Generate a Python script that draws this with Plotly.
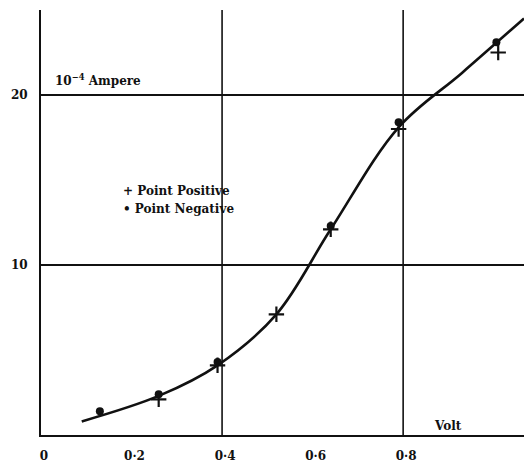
import plotly.graph_objects as go

# Measured current (10^-4 A) against applied voltage (V)
pos_volt = [0.26, 0.39, 0.52, 0.64, 0.79, 1.01]
pos_amp = [2.1, 4.1, 7.1, 12.1, 18.0, 22.5]

neg_volt = [0.13, 0.26, 0.39, 0.64, 0.79, 1.006]
neg_amp = [1.4, 2.4, 4.3, 12.3, 18.4, 23.1]

# Smoothed characteristic drawn through the observations
curve_volt = [0.09, 0.26, 0.39, 0.52, 0.64, 0.79, 0.93, 1.067]
curve_amp = [0.8, 2.3, 4.1, 7.1, 12.1, 18.1, 21.3, 24.5]

x_ticks = [0, 0.2, 0.4, 0.6, 0.8]
x_ticktext = ["0", "0·2", "0·4", "0·6", "0·8"]
x_grid = [0.4, 0.8]
y_ticks = [10, 20]

ink = "#111111"
serif = "DejaVu Serif"

fig = go.Figure()
fig.add_trace(go.Scatter(
    x=curve_volt, y=curve_amp, mode="lines",
    line=dict(color=ink, width=2.6, shape="spline", smoothing=1.0),
    hoverinfo="skip", showlegend=False,
))
fig.add_trace(go.Scatter(
    x=neg_volt, y=neg_amp, mode="markers", name="Point Negative",
    marker=dict(symbol="circle", size=8, color=ink),
    showlegend=False,
))
fig.add_trace(go.Scatter(
    x=pos_volt, y=pos_amp, mode="markers", name="Point Positive",
    marker=dict(symbol="cross-thin", size=11, line=dict(color=ink, width=2.2)),
    showlegend=False,
))

for gx in x_grid:
    fig.add_shape(type="line", xref="x", yref="paper", x0=gx, x1=gx, y0=0, y1=1,
                  line=dict(color=ink, width=1.6), layer="below")

text_font = dict(family=serif, size=12, color=ink, weight="bold")
fig.add_annotation(x=0.026, y=20.3, xref="x", yref="y", text="10<sup>−4</sup> Ampere",
                   showarrow=False, xanchor="left", yanchor="bottom", font=text_font)
fig.add_annotation(x=0.864, y=0.55, xref="x", yref="y", text="Volt",
                   showarrow=False, xanchor="left", yanchor="middle", font=text_font)
fig.add_annotation(x=0.177, y=14.35, xref="x", yref="y", text="+ Point Positive",
                   showarrow=False, xanchor="left", yanchor="middle", font=text_font)
fig.add_annotation(x=0.177, y=13.3, xref="x", yref="y", text="• Point Negative",
                   showarrow=False, xanchor="left", yanchor="middle", font=text_font)

fig.update_layout(
    width=524, height=462,
    margin=dict(l=41, r=0, t=10, b=27),
    paper_bgcolor="white", plot_bgcolor="white",
    showlegend=False,
    xaxis=dict(
        range=[0, 1.067], tickvals=x_ticks, ticktext=x_ticktext,
        showgrid=False, zeroline=False, showline=True, linecolor=ink, linewidth=2,
        ticks="", ticklabelstandoff=9, ticklabelshift=3,
        tickfont=dict(family=serif, size=12, color=ink, weight="bold"),
        fixedrange=True,
    ),
    yaxis=dict(
        range=[0, 25], tickvals=y_ticks,
        showgrid=True, gridcolor=ink, gridwidth=1.6,
        zeroline=False, showline=True, linecolor=ink, linewidth=2,
        ticks="", ticklabelstandoff=9,
        tickfont=dict(family=serif, size=12, color=ink, weight="bold"),
        fixedrange=True,
    ),
)

fig.write_html("out.html")
